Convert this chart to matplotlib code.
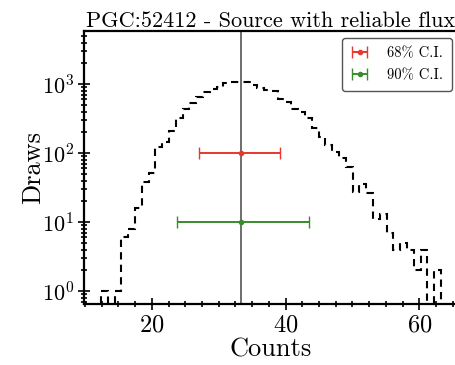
import numpy as np
import matplotlib
matplotlib.use("Agg")
import matplotlib.pyplot as plt

plt.rcParams["font.family"] = "cmr10"
plt.rcParams["mathtext.fontset"] = "cm"
plt.rcParams["axes.formatter.use_mathtext"] = True
plt.rcParams["axes.unicode_minus"] = False

# histogram of posterior draws (50 bins)
edge_lo = 12.4
edge_hi = 63.25
counts = [1, 0, 1, 6, 8, 16, 38, 51, 123, 146,
          208, 318, 441, 535, 655, 773, 847, 915, 1024, 1080,
          1080, 1060, 967, 867, 819, 792, 606, 554, 441, 397,
          325, 228, 172, 131, 104, 84, 63, 27, 36, 26,
          11, 13, 7, 4, 5, 4, 2, 4, 0, 2]

median = 33.3
ci68 = [27.1, 39.2]
ci90 = [23.8, 43.5]
y68 = 100
y90 = 10

edges = np.linspace(edge_lo, edge_hi, len(counts) + 1)

fig = plt.figure(figsize=(4.56, 3.65), dpi=100)
ax = fig.add_axes([84 / 456, 61 / 365, 374 / 456, 273 / 365])

ax.stairs(counts, edges, color="k", linestyle=(0, (3.5, 2.5)), linewidth=1.5)
ax.axvline(median, color="#555555", linewidth=1.2, zorder=1)

ax.errorbar(median, y68, xerr=[[median - ci68[0]], [ci68[1] - median]],
            fmt="o", color="#e8372c", markersize=3, capsize=4, linewidth=1.4,
            label="68% C.I.")
ax.errorbar(median, y90, xerr=[[median - ci90[0]], [ci90[1] - median]],
            fmt="o", color="#3a8a2e", markersize=3, capsize=4, linewidth=1.4,
            label="90% C.I.")

ax.set_yscale("log")
ax.set_ylim(0.65, 5900)
ax.set_title("PGC:52412 - Source with reliable flux", fontsize=16, pad=3)
ax.set_xlabel("Counts", fontsize=19, labelpad=1)
ax.set_ylabel("Draws", fontsize=19, labelpad=-2)

ax.xaxis.set_major_locator(matplotlib.ticker.MultipleLocator(20))
ax.xaxis.set_minor_locator(matplotlib.ticker.MultipleLocator(2.5))
ax.tick_params(which="both", direction="inout", width=1.2)
ax.tick_params(axis="x", labelsize=17.5)
ax.tick_params(axis="y", labelsize=16, pad=3)
ax.tick_params(which="major", length=8)
ax.tick_params(which="minor", length=5)
for s in ax.spines.values():
    s.set_linewidth(1.6)

leg = ax.legend(loc="upper right", fontsize=10.5, frameon=True, fancybox=True,
                edgecolor="#555555", framealpha=1, borderpad=0.6,
                labelspacing=0.55, handlelength=1.2, handletextpad=1.3,
                borderaxespad=0, bbox_to_anchor=(0.984, 0.974))

fig.savefig("out.png", dpi=100)
